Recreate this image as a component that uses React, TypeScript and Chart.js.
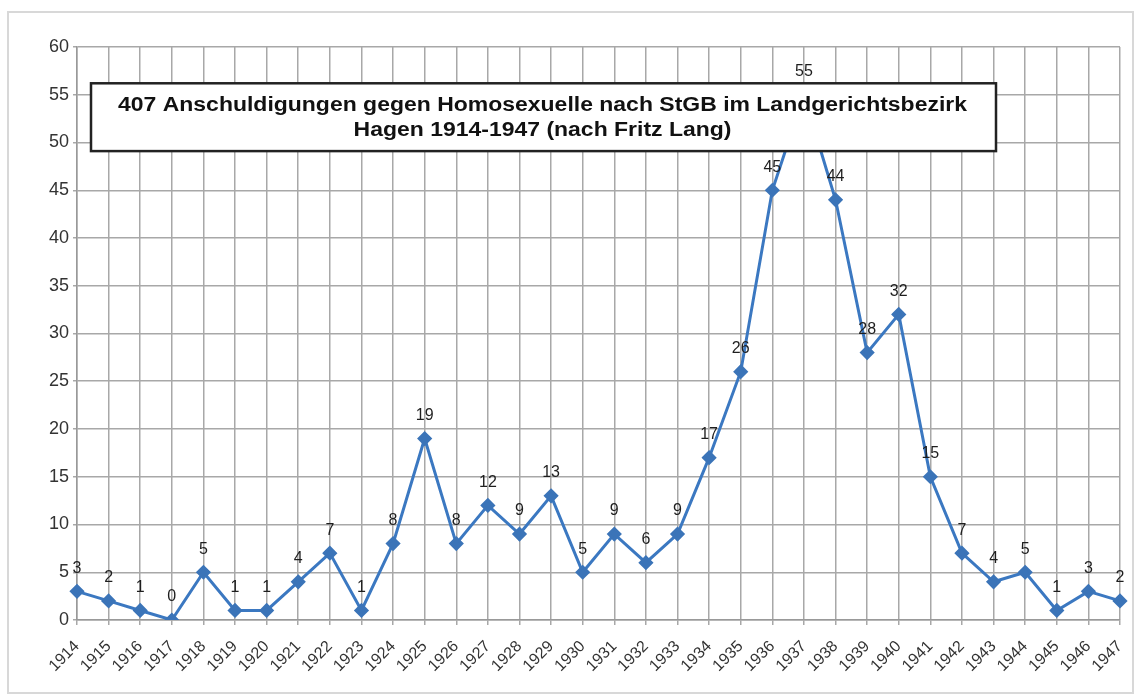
import React, { useEffect, useRef } from "react";
import { Chart, registerables } from "chart.js";

Chart.register(...registerables);

const years = [
  "1914", "1915", "1916", "1917", "1918", "1919", "1920", "1921", "1922", "1923",
  "1924", "1925", "1926", "1927", "1928", "1929", "1930", "1931", "1932", "1933",
  "1934", "1935", "1936", "1937", "1938", "1939", "1940", "1941", "1942", "1943",
  "1944", "1945", "1946", "1947",
];
const accusations = [
  3, 2, 1, 0, 5, 1, 1, 4, 7, 1,
  8, 19, 8, 12, 9, 13, 5, 9, 6, 9,
  17, 26, 45, 55, 44, 28, 32, 15, 7, 4,
  5, 1, 3, 2,
];
const titleLines = [
  "407 Anschuldigungen gegen Homosexuelle nach StGB im Landgerichtsbezirk",
  "Hagen 1914-1947 (nach Fritz Lang)",
];

const FONT = "'Liberation Sans', Arial, sans-serif";

const framePlugin = {
  id: "frame",
  beforeDraw(chart: any) {
    const ctx = chart.ctx;
    ctx.save();
    ctx.fillStyle = "#ffffff";
    ctx.fillRect(0, 0, chart.width, chart.height);
    ctx.strokeStyle = "#d8d8d8";
    ctx.lineWidth = 2;
    ctx.strokeRect(8, 12, 1125, 681);
    ctx.restore();
  },
};

const titleBoxPlugin = {
  id: "titleBox",
  afterDatasetsDraw(chart: any) {
    const ctx = chart.ctx;
    const area = chart.chartArea;
    const y = chart.scales.y;
    const left = area.left + 14;
    const right = area.left + 919;
    const top = y.getPixelForValue(56.2);
    const bottom = y.getPixelForValue(49.1);
    ctx.save();
    ctx.fillStyle = "#ffffff";
    ctx.fillRect(left, top, right - left, bottom - top);
    ctx.strokeStyle = "#222222";
    ctx.lineWidth = 2.5;
    ctx.strokeRect(left, top, right - left, bottom - top);
    ctx.fillStyle = "#111111";
    ctx.font = `bold 20px ${FONT}`;
    ctx.textAlign = "center";
    ctx.textBaseline = "middle";
    const w = ctx.measureText(titleLines[0]).width;
    const sx = 849 / w;
    const cx = (left + right) / 2 - 1;
    const mid = (top + bottom) / 2;
    [mid - 12, mid + 13].forEach((ly, i) => {
      ctx.save();
      ctx.translate(cx, ly);
      ctx.scale(sx, 1);
      ctx.fillText(titleLines[i], 0, 0);
      ctx.restore();
    });
    ctx.restore();
  },
};

const labelPlugin = {
  id: "pointLabels",
  afterDatasetsDraw(chart: any) {
    const ctx = chart.ctx;
    const meta = chart.getDatasetMeta(0);
    ctx.save();
    ctx.fillStyle = "#1e1e1e";
    ctx.font = `16px ${FONT}`;
    ctx.textAlign = "center";
    ctx.textBaseline = "middle";
    meta.data.forEach((pt: any, i: number) => {
      ctx.fillText(String(accusations[i]), pt.x, pt.y - 23);
    });
    ctx.restore();
  },
};

export default function App() {
  const ref = useRef<HTMLCanvasElement | null>(null);

  useEffect(() => {
    document.body.style.margin = "0";
    const canvas = ref.current;
    if (!canvas) return;
    const chart = new Chart(canvas, {
      type: "line",
      data: {
        labels: years,
        datasets: [
          {
            data: accusations,
            borderColor: "#3b78c1",
            backgroundColor: "#3b78c1",
            borderWidth: 3,
            pointStyle: "rectRot",
            pointRadius: 5.5,
            pointBackgroundColor: "#3b74b8",
            pointBorderColor: "#3b74b8",
            tension: 0,
          },
        ],
      },
      options: {
        animation: false,
        responsive: false,
        maintainAspectRatio: false,
        layout: { padding: { left: 0, top: 47, right: 22, bottom: 0 } },
        plugins: {
          legend: { display: false },
          tooltip: { enabled: false },
        },
        scales: {
          x: {
            offset: false,
            afterFit(scale: any) {
              scale.height = 75;
              scale.paddingRight = 0;
              scale.paddingLeft = 0;
            },
            grid: {
              color: "#a8a8a8",
              lineWidth: 1.5,
              tickLength: 5,
            },
            border: { color: "#999999", width: 1.5 },
            ticks: {
              autoSkip: false,
              maxRotation: 45,
              minRotation: 45,
              color: "#333333",
              font: { family: FONT, size: 16 },
              padding: 12,
            },
          },
          y: {
            min: 0,
            max: 60,
            afterFit(scale: any) {
              scale.width = 77;
            },
            grid: {
              color: "#a8a8a8",
              lineWidth: 1.5,
              tickLength: 4,
            },
            border: { color: "#999999", width: 1.5 },
            ticks: {
              stepSize: 5,
              color: "#333333",
              font: { family: FONT, size: 18 },
              padding: 4,
            },
          },
        },
      },
      plugins: [framePlugin, titleBoxPlugin, labelPlugin],
    });
    return () => chart.destroy();
  }, []);

  return (
    <div style={{ width: 1142, height: 695 }}>
      <canvas ref={ref} width={1142} height={695} style={{ display: "block" }} />
    </div>
  );
}
